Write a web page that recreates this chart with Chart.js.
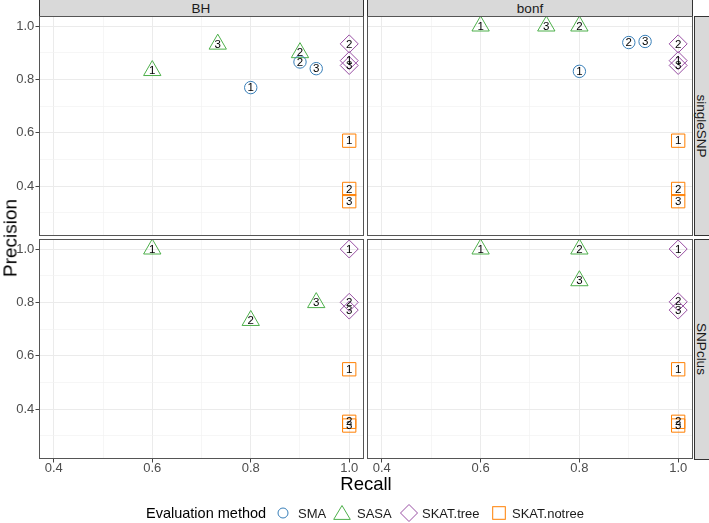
<!DOCTYPE html>
<html>
<head>
<meta charset="utf-8">
<script src="https://cdn.jsdelivr.net/npm/chart.js@4.4.0/dist/chart.umd.min.js"></script>
<style>
  body { margin: 0; background: #fff; }
  #wrap { position: relative; width: 709px; height: 523px; overflow: hidden; background: #fff;
          font-family: "Liberation Sans", Arial, Helvetica, sans-serif; color: #1a1a1a; }
  .box { position: absolute; }
  .strip { position: absolute; background: #d9d9d9; border: 1px solid #333; box-sizing: border-box; }
  .txt { position: absolute; white-space: nowrap; line-height: 1; transform: translate(-50%, -50%); }
  .lab { position: absolute; white-space: nowrap; line-height: 1; transform: translateY(-50%); font-size: 13px; color: #1a1a1a; }
  svg { position: absolute; overflow: visible; }
</style>
</head>
<body>
<div id="wrap">
  <div class="strip" style="left:39px; top:-1px; width:325px; height:18px;"></div>
  <div class="strip" style="left:367px; top:-1px; width:326px; height:18px;"></div>
  <div class="strip" style="left:694px; top:16px; width:20px; height:220px;"></div>
  <div class="strip" style="left:694px; top:239px; width:20px; height:221px;"></div>
  <div class="txt" style="left:201px; top:8.5px; font-size:13.5px;">BH</div>
  <div class="txt" style="left:530px; top:8.5px; font-size:13.5px;">bonf</div>
  <div class="txt" style="left:701px; top:126px; font-size:13.5px; transform: translate(-50%,-50%) rotate(90deg);">singleSNP</div>
  <div class="txt" style="left:701px; top:349px; font-size:13.5px; transform: translate(-50%,-50%) rotate(90deg);">SNPclus</div>

  <div class="box" style="left:0; top:16px;"><canvas id="p0" width="364" height="220"></canvas></div>
  <div class="box" style="left:367px; top:16px;"><canvas id="p1" width="326" height="220"></canvas></div>
  <div class="box" style="left:0; top:239px;"><canvas id="p2" width="364" height="241"></canvas></div>
  <div class="box" style="left:367px; top:239px;"><canvas id="p3" width="326" height="241"></canvas></div>

  <div class="txt" style="left:10px; top:238px; font-size:19px; color:#000; transform: translate(-50%,-50%) rotate(-90deg);">Precision</div>
  <div class="txt" style="left:366px; top:484px; font-size:18.5px; color:#000;">Recall</div>

  <div class="lab" style="left:146px; top:513px; font-size:14.5px; color:#000;">Evaluation method</div>
  <svg style="left:283px; top:513px;" width="1" height="1"><circle cx="0" cy="0" r="5" fill="none" stroke="#377EB8" stroke-width="1"/></svg>
  <div class="lab" style="left:298px; top:513px;">SMA</div>
  <svg style="left:341.5px; top:514px;" width="1" height="1"><polygon points="0,-8.5 8.3,5.4 -8.3,5.4" fill="none" stroke="#4DAF4A" stroke-width="1"/></svg>
  <div class="lab" style="left:357px; top:513px;">SASA</div>
  <svg style="left:409px; top:513px;" width="1" height="1"><polygon points="0,-8.5 8.5,0 0,8.5 -8.5,0" fill="none" stroke="#984EA3" stroke-width="1"/></svg>
  <div class="lab" style="left:422px; top:513px;">SKAT.tree</div>
  <svg style="left:499px; top:513px;" width="1" height="1"><rect x="-6.3" y="-6.3" width="12.6" height="12.6" fill="none" stroke="#FF7F00" stroke-width="1"/></svg>
  <div class="lab" style="left:512px; top:513px;">SKAT.notree</div>
</div>

<script>
// panels: BH/singleSNP, bonf/singleSNP, BH/SNPclus, bonf/SNPclus
const panelNames = ['BH singleSNP', 'bonf singleSNP', 'BH SNPclus', 'bonf SNPclus'];
const scenarios = ['1', '2', '3'];
const methods = ['SMA', 'SASA', 'SKAT.tree', 'SKAT.notree'];

const smaRecall = [[0.8, 0.9, 0.933], [0.8, 0.9, 0.933], [], []];
const smaPrecision = [[0.769, 0.865, 0.840], [0.830, 0.938, 0.942], [], []];
const sasaRecall = [[0.6, 0.9, 0.733], [0.6, 0.8, 0.733], [0.6, 0.8, 0.933], [0.6, 0.8, 0.8]];
const sasaPrecision = [[0.833, 0.900, 0.932], [1.0, 1.0, 1.0], [1.0, 0.732, 0.799], [1.0, 1.0, 0.881]];
const treeRecall = [[1, 1, 1], [1, 1, 1], [1, 1, 1], [1, 1, 1]];
const treePrecision = [[0.870, 0.933, 0.852], [0.870, 0.933, 0.852], [1.0, 0.800, 0.771], [1.0, 0.802, 0.771]];
const notreeRecall = [[1, 1, 1], [1, 1, 1], [1, 1, 1], [1, 1, 1]];
const notreePrecision = [[0.570, 0.389, 0.343], [0.570, 0.389, 0.343], [0.549, 0.352, 0.338], [0.549, 0.352, 0.338]];

const xMajor = [0.4, 0.6, 0.8, 1.0];
const xMinor = [0.5, 0.7, 0.9];
const yMajor = [0.4, 0.6, 0.8, 1.0];
const yMinor = [0.3, 0.5, 0.7, 0.9];
const xRange = [0.37, 1.03];
const yRange = [0.2125, 1.0375];

const FONT = '"Liberation Sans", Arial, Helvetica, sans-serif';
const colors = ['#377EB8', '#4DAF4A', '#984EA3', '#FF7F00'];
const shapes = ['circle', 'triangle', 'rectRot', 'rect'];
const radii = [6.2, 10, 9, 9.4];
const recalls = [smaRecall, sasaRecall, treeRecall, notreeRecall];
const precisions = [smaPrecision, sasaPrecision, treePrecision, notreePrecision];

const has = (arr, v) => arr.some(m => Math.abs(m - v) < 1e-6);

const pointLabels = {
    id: 'pointLabels',
    afterDatasetsDraw(chart) {
        const ctx = chart.ctx;
        const a = chart.chartArea;
        ctx.save();
        // panel border
        ctx.strokeStyle = '#555';
        ctx.lineWidth = 1;
        ctx.strokeRect(a.left + 0.5, a.top + 0.5, a.right - a.left - 1, a.bottom - a.top - 1);
        ctx.font = '11.5px ' + FONT;
        ctx.fillStyle = '#000';
        ctx.textAlign = 'center';
        ctx.textBaseline = 'middle';
        chart.data.datasets.forEach((ds, di) => {
            chart.getDatasetMeta(di).data.forEach((pt, i) => {
                ctx.fillText(ds.pointText[i], pt.x, pt.y + 0.5);
            });
        });
        ctx.restore();
    }
};

const makeAxis = (range, major, minor, showLabels, size, horizontal) => ({
    type: 'linear',
    min: range[0],
    max: range[1],
    afterBuildTicks: s => {
        s.ticks = major.concat(minor).sort((a, b) => a - b).map(v => ({ value: v }));
    },
    afterFit: s => {
        if (horizontal) s.height = size; else s.width = size;
        s.paddingTop = 0;
        s.paddingBottom = 0;
        s.paddingLeft = 0;
        s.paddingRight = 0;
    },
    border: { display: false },
    grid: {
        color: c => has(major, c.tick.value) ? '#ebebeb' : '#f2f2f2',
        lineWidth: c => has(major, c.tick.value) ? 1 : 0.7,
        drawTicks: showLabels,
        tickLength: 3.5,
        tickWidth: 1,
        tickColor: c => has(major, c.tick.value) ? '#444' : 'rgba(0,0,0,0)'
    },
    ticks: {
        display: showLabels,
        autoSkip: false,
        maxRotation: 0,
        padding: horizontal ? -1 : 1.2,
        color: '#4d4d4d',
        font: { family: FONT, size: 13, lineHeight: 1 },
        callback: v => has(major, v) ? v.toFixed(1) : ''
    }
});

const renderPanel = (p) => {
    const left = p % 2 === 0;
    const bottom = p >= 2;
    const datasets = [];
    methods.forEach((m, k) => {
        if (!recalls[k][p].length) return;
        datasets.push({
            label: m,
            data: recalls[k][p].map((x, i) => ({ x: x, y: precisions[k][p][i] })),
            pointText: scenarios,
            pointStyle: shapes[k],
            pointRadius: radii[k],
            pointHoverRadius: radii[k],
            pointBorderWidth: 1,
            borderColor: colors[k],
            backgroundColor: 'rgba(0,0,0,0)',
            showLine: false,
            clip: false
        });
    });

    new Chart(document.getElementById('p' + p), {
        type: 'scatter',
        data: { datasets: datasets },
        options: {
            responsive: false,
            animation: false,
            events: [],
            layout: { padding: 0, autoPadding: false },
            plugins: { legend: { display: false }, tooltip: { enabled: false } },
            scales: {
                x: makeAxis(xRange, xMajor, xMinor, bottom, bottom ? 21 : 0, true),
                y: makeAxis(yRange, yMajor, yMinor, left, left ? 39 : 0, false)
            }
        },
        plugins: [pointLabels]
    });
};

panelNames.forEach((name, p) => renderPanel(p));
</script>
</body>
</html>
